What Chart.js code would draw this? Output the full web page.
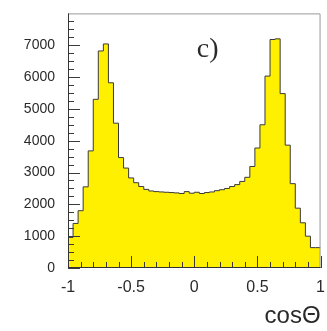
<!DOCTYPE html>
<html>
<head>
<meta charset="utf-8">
<script src="https://cdn.jsdelivr.net/npm/chart.js@4.4.0/dist/chart.umd.min.js"></script>
<style>
    html, body { margin: 0; padding: 0; background: #fff; }
</style>
</head>
<body>
<canvas id="cosChart" width="327" height="331"></canvas>
<script>
// 50 bins of cos(theta) between -1 and 1
const binLow = -1;
const binHigh = 1;
const counts = [
    650, 960, 1400, 1800, 2550, 3680, 5300, 6820, 7040, 5820,
    4550, 3470, 3140, 2830, 2680, 2560, 2470, 2420, 2400, 2390,
    2380, 2370, 2360, 2340, 2400, 2350, 2380, 2340, 2370, 2390,
    2430, 2460, 2500, 2560, 2620, 2720, 2850, 3190, 3770, 4500,
    6030, 7180, 7200, 5480, 3860, 2650, 1880, 1420, 1000, 640
];
const xTicks = [-1, -0.5, 0, 0.5, 1];
const yTicks = [0, 1000, 2000, 3000, 4000, 5000, 6000, 7000];
const yMax = 8000;
const panelLabel = 'c)';
const axisTitle = 'cosΘ';

const binWidth = (binHigh - binLow) / counts.length;
let steps = counts.map((c, i) => ({ x: binLow + i * binWidth, y: c }));
steps.push({ x: binHigh, y: counts[counts.length - 1] });

// inward ticks, the box and the panel letter
const frame = {
    id: 'frame',
    afterDatasetsDraw(chart) {
        const { ctx, chartArea: a, scales: { x, y } } = chart;
        ctx.save();
        ctx.lineWidth = 1;
        ctx.strokeStyle = '#3a3a3a';
        ctx.beginPath();
        for (let v = 0; v < yMax; v += 250) {
            const py = Math.round(y.getPixelForValue(v)) + 0.5;
            const len = v % 1000 === 0 ? 12 : 6;
            ctx.moveTo(a.left, py);
            ctx.lineTo(a.left + len, py);
        }
        for (let k = -10; k <= 10; k++) {
            const px = Math.round(x.getPixelForValue(k / 10)) + 0.5;
            const len = k % 5 === 0 ? 12 : 6;
            ctx.moveTo(px, a.bottom);
            ctx.lineTo(px, a.bottom - len);
        }
        ctx.stroke();

        ctx.strokeStyle = '#9a9a9a';
        ctx.beginPath();
        ctx.moveTo(a.left, a.top + 0.5);
        ctx.lineTo(a.right - 0.5, a.top + 0.5);
        ctx.lineTo(a.right - 0.5, a.bottom);
        ctx.stroke();

        ctx.strokeStyle = '#333';
        ctx.beginPath();
        ctx.moveTo(a.left + 0.5, a.top);
        ctx.lineTo(a.left + 0.5, a.bottom - 0.5);
        ctx.lineTo(a.right, a.bottom - 0.5);
        ctx.stroke();

        ctx.fillStyle = '#2a2a2a';
        ctx.font = '28px "Liberation Serif"';
        ctx.textBaseline = 'alphabetic';
        ctx.fillText(panelLabel, x.getPixelForValue(0.02), 57);
        ctx.restore();
    }
};

new Chart(document.getElementById('cosChart'), {
    type: 'line',
    data: {
        datasets: [{
            data: steps,
            stepped: 'after',
            fill: 'origin',
            backgroundColor: '#fff000',
            borderColor: '#3a3a3a',
            borderWidth: 1,
            pointRadius: 0,
            tension: 0
        }]
    },
    options: {
        responsive: false,
        animation: false,
        layout: { padding: { top: 5, right: 0, left: 0, bottom: 0 } },
        plugins: { legend: { display: false }, tooltip: { enabled: false } },
        scales: {
            x: {
                type: 'linear',
                min: binLow,
                max: binHigh,
                afterBuildTicks: s => { s.ticks = xTicks.map(v => ({ value: v })); },
                afterFit: s => { s.height = 63; },
                grid: { display: false },
                border: { display: false },
                ticks: {
                    color: '#2a2a2a',
                    font: { family: '"Liberation Sans"', size: 16 },
                    padding: 2,
                    maxRotation: 0,
                    callback: v => String(v)
                },
                title: {
                    display: true,
                    text: axisTitle,
                    align: 'end',
                    color: '#2a2a2a',
                    font: { family: '"Liberation Sans"', size: 24 },
                    padding: { top: 6, bottom: 0 }
                }
            },
            y: {
                min: 0,
                max: yMax,
                afterBuildTicks: s => { s.ticks = yTicks.map(v => ({ value: v })); },
                afterFit: s => { s.width = 68; },
                grid: { display: false },
                border: { display: false },
                ticks: {
                    color: '#2a2a2a',
                    font: { family: '"Liberation Sans"', size: 14 },
                    padding: 5,
                    callback: v => String(v)
                }
            }
        }
    },
    plugins: [frame]
});
</script>
</body>
</html>
